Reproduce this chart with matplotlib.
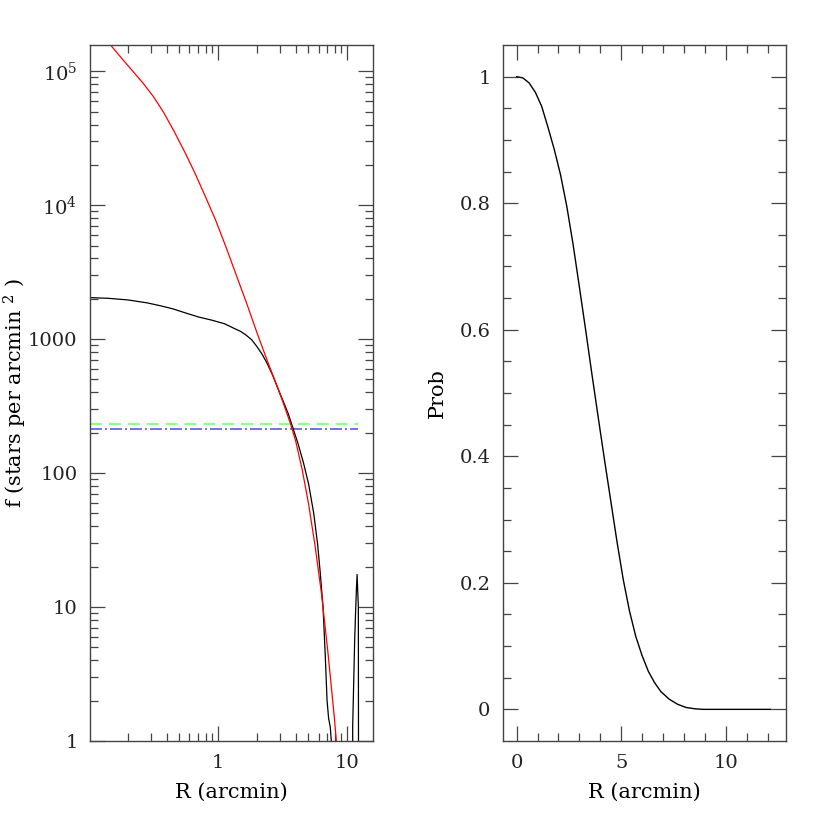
import matplotlib
matplotlib.use("Agg")
import matplotlib.pyplot as plt
from matplotlib.ticker import FixedLocator, NullFormatter

# --- surface density profile (left panel) ---
r_obs = [0.102, 0.141, 0.200, 0.282, 0.355, 0.447, 0.562, 0.708, 0.891, 1.122,
         1.318, 1.479, 1.622, 1.820, 1.995, 2.188, 2.399, 2.630, 2.884, 3.162,
         3.467, 3.802, 4.169, 4.571, 5.012, 5.495, 5.888, 6.166, 6.486, 6.761,
         6.966, 7.161, 7.379, 7.516, 7.6,
         10.9, 11.0, 11.4, 11.6, 11.75, 11.9, 12.17, 12.2, 12.25]
f_obs = [2042, 2018, 1963, 1866, 1778, 1683, 1567, 1462, 1387, 1303,
         1208, 1148, 1084, 989, 881, 773, 658, 543, 435, 351,
         282, 216, 164, 120, 83.2, 50.1, 29.5, 18.2, 10.0, 4.17,
         2.02, 1.48, 1.27, 1.0, 0.0,
         0.0, 1.28, 5.7, 9.5, 13.4, 17.5, 10.0, 1.0, 0.0]

r_fit = [0.147, 0.178, 0.220, 0.263, 0.316, 0.380, 0.457, 0.550, 0.661, 0.794,
         0.955, 1.148, 1.380, 1.660, 1.995, 2.399, 2.884, 3.311, 3.631, 3.981,
         4.467, 5.012, 5.623, 6.310, 7.079, 7.943, 8.222]
f_fit = [1.57e5, 1.26e5, 9.93e4, 8.13e4, 6.46e4, 4.90e4, 3.55e4, 2.51e4,
         1.74e4, 1.17e4, 7760, 4900, 3020, 1860, 1122, 692, 437, 302, 234,
         174, 107, 58.9, 28.8, 12.6, 4.57, 1.48, 1.0]

bg_level = 231
bg_fit = 213
r_line = [0.102, 12.2]

# --- membership probability (right panel) ---
r_prob = [0.0, 0.3, 0.6, 0.9, 1.2, 1.5, 1.8, 2.1, 2.4, 2.7, 3.0, 3.3, 3.6,
          3.9, 4.2, 4.5, 4.8, 5.1, 5.4, 5.7, 6.0, 6.3, 6.6, 6.9, 7.3, 7.7,
          8.1, 8.5, 8.9, 12.15]
prob = [1.0, 0.998, 0.99, 0.975, 0.953, 0.92, 0.885, 0.845, 0.795, 0.735,
        0.668, 0.600, 0.530, 0.462, 0.395, 0.330, 0.265, 0.205, 0.155, 0.115,
        0.085, 0.060, 0.042, 0.028, 0.016, 0.008, 0.003, 0.001, 0.0, 0.0]

ytick_vals = [1, 10, 100, 1000, 1e4, 1e5]
ytick_labels = ["1", "10", "100", "1000", "$10^4$", "$10^5$"]

plt.rcParams['font.family'] = ['DejaVu Serif']
plt.rcParams['mathtext.fontset'] = 'dejavuserif'
plt.rcParams['lines.scale_dashes'] = False
plt.rcParams['text.color'] = '#222222'

fig = plt.figure(figsize=(8.3, 8.3), dpi=100)
ax1 = fig.add_axes([90 / 830, 89 / 830, 283 / 830, 696 / 830])
ax2 = fig.add_axes([503 / 830, 89 / 830, 283 / 830, 696 / 830])

edge = '#444444'
for ax in (ax1, ax2):
    for s in ax.spines.values():
        s.set_color(edge)
        s.set_linewidth(1.0)
    ax.tick_params(which='both', direction='in', top=True, right=True,
                   colors=edge, labelcolor='#222222', labelsize=14)
    ax.tick_params(which='major', length=10.5, width=0.9, pad=9)
    ax.tick_params(which='minor', length=6, width=0.9)

# left panel
ax1.set_xscale('log')
ax1.set_yscale('log')
ax1.plot(r_line, [bg_level, bg_level], color=(0.55, 1.0, 0.55), lw=1.6,
         dashes=(8.6, 5))
ax1.plot(r_line, [bg_fit, bg_fit], color='#5a5ae6', lw=1.2,
         dashes=(8.6, 2.2, 1.4, 2.2))
ax1.plot(r_obs, f_obs, color='black', lw=0.9)
ax1.plot(r_fit, f_fit, color='red', lw=0.9)
ax1.set_xlim(0.102, 15.8)
ax1.set_ylim(1, 1.57e5)
ax1.xaxis.set_major_locator(FixedLocator([1, 10]))
ax1.set_xticklabels(["1", "10"])
ax1.xaxis.set_minor_locator(FixedLocator(
    [k * 0.1 for k in range(2, 10)] + list(range(2, 10))))
ax1.xaxis.set_minor_formatter(NullFormatter())
ax1.yaxis.set_major_locator(FixedLocator(ytick_vals))
ax1.set_yticklabels(ytick_labels)
ax1.yaxis.set_minor_locator(FixedLocator(
    [k * 10 ** d for d in range(0, 5) for k in range(2, 10)]))
ax1.yaxis.set_minor_formatter(NullFormatter())
ax1.set_xlabel("R (arcmin)", fontsize=15)
ax1.set_ylabel("f (stars per arcmin $^{2}$ )", fontsize=15)
ax1.xaxis.set_label_coords(0.5, -0.06)
ax1.yaxis.set_label_coords(-0.215, 0.5)

# right panel
ax2.plot(r_prob, prob, color='black', lw=1.0)
ax2.set_xlim(-0.65, 12.88)
ax2.set_ylim(-0.05, 1.05)
ax2.xaxis.set_major_locator(FixedLocator([0, 5, 10]))
ax2.set_xticklabels(["0", "5", "10"])
ax2.xaxis.set_minor_locator(FixedLocator(range(0, 13)))
ax2.yaxis.set_major_locator(FixedLocator([0, 0.2, 0.4, 0.6, 0.8, 1.0]))
ax2.set_yticklabels(["0", "0.2", "0.4", "0.6", "0.8", "1"])
ax2.yaxis.set_minor_locator(FixedLocator([k * 0.05 for k in range(0, 21)]))
ax2.set_xlabel("R (arcmin)", fontsize=15)
ax2.set_ylabel("Prob", fontsize=15)
ax2.xaxis.set_label_coords(0.5, -0.06)
ax2.yaxis.set_label_coords(-0.198, 0.5)

fig.savefig("out.png", dpi=100)
